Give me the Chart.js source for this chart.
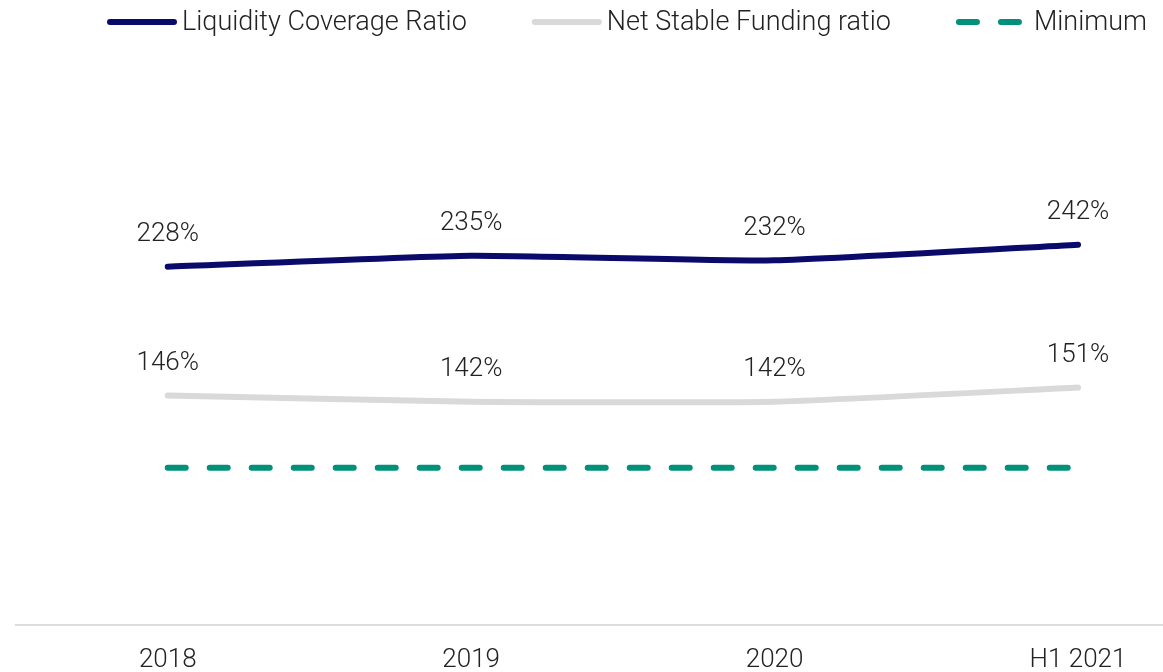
<!DOCTYPE html>
<html lang="en">
<head>
  <meta charset="UTF-8" />
  <script src="https://cdn.jsdelivr.net/npm/chart.js"></script>
  <title>Liquidity ratios</title>
  <style>
    html, body { margin: 0; padding: 0; background: #fff; }
    #wrap { width: 1163px; height: 672px; }
  </style>
</head>
<body>
  <div id="wrap"><canvas id="grafico"></canvas></div>
  <script>
    // data
    const periodos = ['2018', '2019', '2020', 'H1 2021'];
    const lcr = [228, 235, 232, 242];
    const nsfr = [146, 142, 142, 151];
    const minimo = [100, 100, 100, 100];

    const fuente = "'Roboto', 'Liberation Sans', sans-serif";
    const colorTexto = '#222222';

    // linear x so the axis line can run past the first/last category
    const puntos = serie => serie.map((v, i) => ({ x: i, y: v }));

    // labels above the points
    const etiquetas = {
      id: 'etiquetas',
      afterDatasetsDraw(chart) {
        const ctx = chart.ctx;
        ctx.save();
        ctx.font = '300 26px ' + fuente;
        ctx.fillStyle = colorTexto;
        ctx.textAlign = 'center';
        ctx.textBaseline = 'middle';
        chart.data.datasets.forEach((ds, i) => {
          if (!ds.conEtiqueta) return;
          chart.getDatasetMeta(i).data.forEach((p, j) => {
            ctx.fillText(ds.data[j].y + '%', p.x, p.y - 32);
          });
        });
        ctx.restore();
      }
    };

    // legend drawn by hand to get the spacing of the original
    const leyenda = {
      id: 'leyenda',
      afterDraw(chart, args, opts) {
        const ctx = chart.ctx;
        ctx.save();
        ctx.font = '300 27px ' + fuente;
        const items = chart.data.datasets.map(ds => ({
          texto: ds.label,
          color: ds.borderColor,
          dash: ds.borderDash || [],
          ancho: ds.borderDash ? 66 : 70,
          hueco: ds.borderDash ? 12 : 5,
          tw: ctx.measureText(ds.label).width
        }));
        const total = items.reduce((s, it) => s + it.ancho + it.hueco + it.tw, 0) + opts.separacion * (items.length - 1);
        let x = opts.centro - total / 2;
        const y = opts.y;
        items.forEach(it => {
          ctx.beginPath();
          ctx.lineWidth = 6;
          ctx.lineCap = 'round';
          ctx.strokeStyle = it.color;
          ctx.setLineDash(it.dash);
          ctx.moveTo(x + 3, y);
          ctx.lineTo(x + it.ancho - 3, y);
          ctx.stroke();
          ctx.setLineDash([]);
          ctx.fillStyle = colorTexto;
          ctx.textAlign = 'left';
          ctx.textBaseline = 'middle';
          ctx.fillText(it.texto, x + it.ancho + it.hueco, y + 1);
          x += it.ancho + it.hueco + it.tw + opts.separacion;
        });
        ctx.restore();
      }
    };

    const ctx = document.getElementById('grafico').getContext('2d');
    new Chart(ctx, {
      type: 'line',
      data: {
        datasets: [
          {
            label: 'Liquidity Coverage Ratio',
            data: puntos(lcr),
            borderColor: '#0a0a6b',
            borderWidth: 6,
            borderCapStyle: 'round',
            pointRadius: 0,
            tension: 0.15,
            conEtiqueta: true
          },
          {
            label: 'Net Stable Funding ratio',
            data: puntos(nsfr),
            borderColor: '#d9d9d9',
            borderWidth: 6,
            borderCapStyle: 'round',
            pointRadius: 0,
            tension: 0.15,
            conEtiqueta: true
          },
          {
            label: 'Minimum',
            data: puntos(minimo),
            borderColor: '#00917a',
            borderWidth: 6,
            borderDash: [18, 24],
            borderCapStyle: 'round',
            pointRadius: 0,
            tension: 0
          }
        ]
      },
      options: {
        responsive: true,
        maintainAspectRatio: false,
        animation: false,
        layout: { padding: { top: 75, left: 16, right: 0, bottom: -24 } },
        plugins: {
          legend: { display: false },
          tooltip: { enabled: false },
          leyenda: { centro: 627, y: 22, separacion: 65 }
        },
        scales: {
          x: {
            type: 'linear',
            min: -0.5,
            max: 3.28,
            grid: { display: false, drawTicks: false },
            border: { display: true, color: '#dcdcdc', width: 2 },
            afterBuildTicks: axis => {
              axis.ticks = periodos.map((p, i) => ({ value: i }));
            },
            ticks: {
              padding: 20,
              color: colorTexto,
              font: { family: fuente, size: 26, weight: '300' },
              callback: v => periodos[v]
            }
          },
          y: {
            display: false,
            min: 0,
            max: 350
          }
        }
      },
      plugins: [etiquetas, leyenda]
    });
  </script>
</body>
</html>
